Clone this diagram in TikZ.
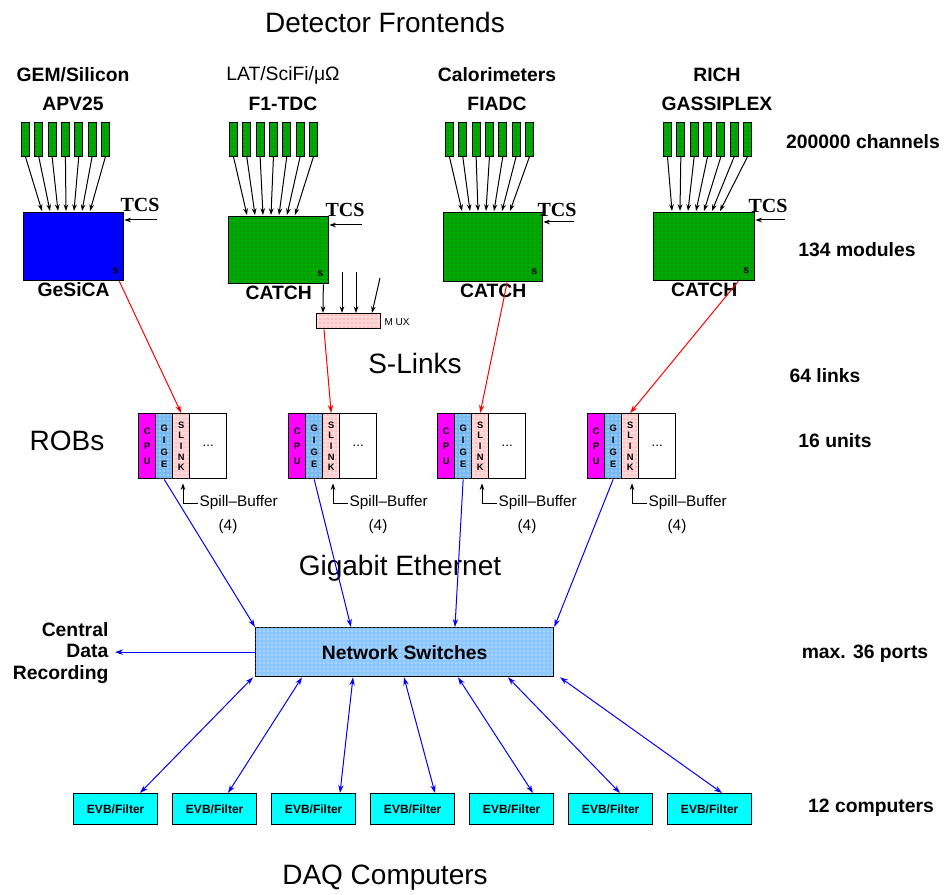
\documentclass[tikz,border=0pt]{standalone}
\usepackage{fontspec}
\setmainfont{Liberation Sans}
\newfontfamily\tcsfont{Liberation Serif}
\usetikzlibrary{arrows.meta,calc,patterns}
\definecolor{cgreen}{RGB}{0,170,0}
\definecolor{cdark}{RGB}{0,90,0}
\definecolor{gblue}{RGB}{0,0,255}
\definecolor{swblue}{RGB}{140,200,255}
\definecolor{gigeblue}{RGB}{120,185,240}
\definecolor{spink}{RGB}{255,215,215}
\definecolor{evbcyan}{RGB}{0,255,255}
\definecolor{cpumag}{RGB}{255,0,255}
\begin{document}
\begin{tikzpicture}[x=0.75pt,y=-0.75pt,
  lbl/.style={font=\fontsize{14.5}{16}\selectfont\bfseries, inner sep=1pt},
  lblr/.style={font=\fontsize{14.5}{16}\selectfont, inner sep=1pt},
  big/.style={font=\fontsize{21}{24}\selectfont, inner sep=1pt},
  card/.style={draw=black, line width=0.8pt, fill=cgreen, minimum width=6pt, minimum height=25.5pt, inner sep=0pt,
     postaction={pattern=dots, pattern color=cdark}},
  fbox/.style={draw=black, line width=1pt, inner sep=0pt},
  greenbox/.style={fbox, fill=cgreen, postaction={pattern=dots, pattern color=cdark}},
  arr/.style={line width=0.75pt, -{Stealth[length=5pt,width=3.5pt]}},
  redarr/.style={red, line width=0.75pt, -{Stealth[length=6pt,width=4pt]}},
  bluearr/.style={blue, line width=0.75pt, -{Stealth[length=6pt,width=4pt]}},
  dblarr/.style={blue, line width=0.75pt, {Stealth[length=6pt,width=4pt]}-{Stealth[length=6pt,width=4pt]}},
  robcol/.style={draw=black, line width=1pt, minimum width=12.75pt, minimum height=48.75pt, inner sep=0pt,
     align=center, font=\fontsize{7}{8}\selectfont\bfseries},
  evb/.style={draw=black, line width=1pt, fill=evbcyan, minimum width=63pt, minimum height=23.25pt, inner sep=0pt,
     font=\fontsize{9}{10}\selectfont\bfseries},
  tcs/.style={font=\tcsfont\fontsize{15}{17}\selectfont\bfseries, inner sep=1pt},
  spill/.style={font=\fontsize{11.5}{13}\selectfont, inner sep=1pt}
]
\useasboundingbox (0,0) rectangle (947,895);

% titles
\node[big] (title) at (385,22) {Detector Frontends};
\node[big] (slinks) at (415,363) {S-Links};
\node[big] (robs) at (67,441) {ROBs};
\node[big] (gbe) at (400,568) {Gigabit Ethernet};
\node[big] (daq) at (385,878) {DAQ Computers};

% right labels
\node[lbl] (r1) at (863,142) {200000 channels};
\node[lbl] (r2) at (857,250) {134 modules};
\node[lbl] (r3) at (825,376) {64 links};
\node[lbl] (r4) at (835,441) {16 units};
\node[lbl] (r5) at (865,654) {max. 36 ports};
\node[lbl] (r6) at (871,808) {12 computers};

% column labels
\node[lbl] (t1) at (73,75) {GEM/Silicon};
\node[lbl] (a1) at (73,104) {APV25};
\node[lblr] (t2) at (283,75) {LAT/SciFi/μΩ};
\node[lbl] (a2) at (283,104) {F1-TDC};
\node[lbl] (t3) at (497,75) {Calorimeters};
\node[lbl] (a3) at (497,104) {FIADC};
\node[lbl] (t4) at (717,75) {RICH};
\node[lbl] (a4) at (717,104) {GASSIPLEX};

% front-end boxes
\node[fbox, fill=gblue, anchor=north west, minimum width=75pt, minimum height=51pt] (b1) at (23,212) {};
\node[greenbox, anchor=north west, minimum width=75pt, minimum height=50.25pt] (b2) at (228,216) {};
\node[greenbox, anchor=north west, minimum width=74.25pt, minimum height=51.75pt] (b3) at (443,212) {};
\node[greenbox, anchor=north west, minimum width=75.75pt, minimum height=51pt] (b4) at (653,212) {};

\node[lbl, anchor=north] (l1) at (b1.south) {GeSiCA};
\node[lbl, anchor=north] (l2) at (b2.south) {CATCH};
\node[lbl, anchor=north] (l3) at (b3.south) {CATCH};
\node[lbl, anchor=north] (l4) at (b4.south) {CATCH};

\foreach \c in {1,2,3,4}{
  \node[font=\fontsize{8}{8}\selectfont\bfseries, inner sep=0pt] (m\c) at ($(b\c.south east)+(-9,-11)$) {s};
}

% cards and arrows
\foreach \c/\x in {1/21,2/229,3/445,4/663}{
  \foreach \i in {0,...,6}{
    \node[card, anchor=north west] (c\c-\i) at ({\x+13.3*\i},122) {};
    \draw[arr] (c\c-\i.south) -- ($(b\c.north west)+({19+8*\i},-1)$);
  }
}

% TCS
\foreach \c/\tx/\ty/\ay in {1/140/205/220, 2/345/210/225, 3/557/210/222, 4/768/206/220}{
  \node[tcs] (tcs\c) at (\tx,\ty) {TCS};
  \coordinate (tin\c) at ({\tx+17},\ay);
  \draw[arr] (tin\c) -- (b\c.east |- tin\c);
}

% MUX
\node[fbox, fill=spink, postaction={pattern=dots, pattern color=red!60}, anchor=north west,
      minimum width=48pt, minimum height=11.25pt] (mux) at (316,313) {};
\node[font=\fontsize{7.5}{9}\selectfont, anchor=west, inner sep=1pt] (muxl) at (383,322) {M UX};
\coordinate (mi1) at (342,272);
\coordinate (mi2) at (356,272);
\coordinate (mi3) at (380,278);
\draw[arr] ($(b2.south east)+(-6,0)$) -- ($(mux.north west)+(7,0)$);
\draw[arr] (mi1) -- (mi1 |- mux.north);
\draw[arr] (mi2) -- (mi2 |- mux.north);
\draw[arr] (mi3) -- ($(mux.north west)+(56,0)$);

% ROBs
\foreach \r/\x in {1/138,2/288,3/437,4/587}{
  \node[robcol, fill=cpumag, anchor=north west] (cpu\r) at (\x,413) {C\\[3pt]P\\[3pt]U};
  \node[robcol, fill=gigeblue, postaction={pattern=dots, pattern color=white}, anchor=north west] (gige\r) at ({\x+17},413) {G\\[1pt]I\\[1pt]G\\[1pt]E};
  \node[robcol, fill=spink, postaction={pattern=dots, pattern color=red!50}, anchor=north west] (sl\r) at ({\x+34},413) {S\\L\\I\\N\\K};
  \node[robcol, fill=white, anchor=north west, minimum width=27.75pt, font=\fontsize{10}{12}\selectfont] (rest\r) at ({\x+51},413) {...};
  \coordinate (sb\r) at ({\x+45},503);
  \draw[arr] (sb\r) -- ($(sb\r |- sl\r.south)+(0,4)$);
  \node[spill, anchor=west] (sbt\r) at ({\x+60},503) {Spill–Buffer};
  \draw[line width=0.75pt] (sb\r) -- (sbt\r.west);
  \node[spill] (sbn\r) at ({\x+90},527) {(4)};
}

% red S-link arrows
\draw[redarr] ($(b1.south east)+(-5,0)$) -- (sl1.north);
\draw[redarr] ($(mux.south west)+(8,0)$) -- (sl2.north);
\draw[redarr] ($(b3.south)+(14,0)$) -- (sl3.north);
\draw[redarr] ($(b4.south east)+(-17,0)$) -- (sl4.north);

% network switches
\node[fbox, fill=swblue, postaction={pattern=dots, pattern color=white}, anchor=north west,
      minimum width=223.5pt, minimum height=36.75pt] (sw) at (255,627) {};
\node[font=\fontsize{14.5}{16}\selectfont\bfseries] (swl) at (sw.center) {Network Switches};

\draw[bluearr] (gige1.south) -- (sw.north west);
\draw[bluearr] (gige2.south) -- ($(sw.north west)+(96,0)$);
\draw[bluearr] (gige3.south) -- ($(sw.north west)+(200,0)$);
\draw[bluearr] (gige4.south) -- (sw.north east);

% central data recording
\node[lbl, align=right, anchor=east, font=\fontsize{14.5}{16}\selectfont\bfseries, text width=90pt] (cdr) at (110,653)
  {\baselineskip=15.75pt Central\\Data\\Recording};
\draw[bluearr] (sw.west) -- ($(cdr.east |- sw.west)+(5,0)$);

% EVB computers
\foreach \i/\bo/\to in {0/67/-2, 1/56/47, 2/69/98, 3/65/149, 4/64/203, 5/52/253, 6/55/305}{
  \node[evb, anchor=north west] (e\i) at ({73+99*\i},793) {EVB/Filter};
  \draw[dblarr] ($(sw.south west)+(\to,0)$) -- ($(e\i.north west)+(\bo,0)$);
}
\end{tikzpicture}
\end{document}
